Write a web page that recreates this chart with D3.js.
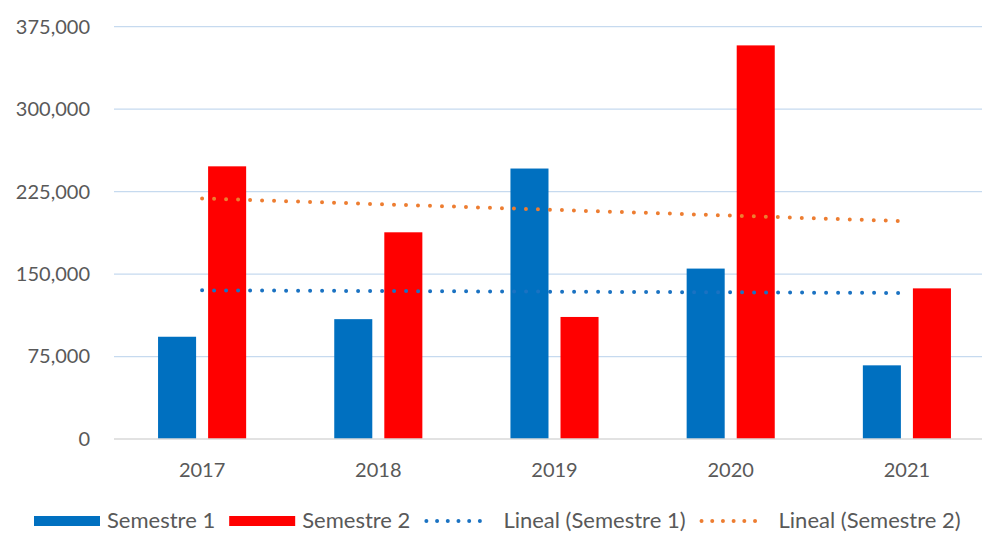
<!DOCTYPE html>
<html>
<head>
<meta charset="utf-8">
<script src="https://cdn.jsdelivr.net/npm/d3@7"></script>
<style>
  html, body { margin: 0; padding: 0; background: #fff; }
  svg { display: block; font-family: Lato, "Open Sans", sans-serif; }
</style>
</head>
<body>
<svg id="chart" width="982" height="533"></svg>
<script>
// Yearly totals per semester
const years = ["2017", "2018", "2019", "2020", "2021"];
const semestre1 = [93000, 109000, 246000, 155000, 67000];
const semestre2 = [248000, 188000, 111000, 358000, 137000];
const yTicks = [0, 75000, 150000, 225000, 300000, 375000];

const seriesNames = ["Semestre 1", "Semestre 2"];
const trendNames = ["Lineal (Semestre 1)", "Lineal (Semestre 2)"];
const barColors = ["#0070C0", "#FF0000"];
const trendColors = ["#1A72C2", "#ED7D31"];

const svg = d3.select("#chart");
const width = 982, height = 533;
const plot = { left: 114, right: 995, top: 26.7, bottom: 439 };

const x0 = d3.scaleBand().domain(years).range([plot.left, plot.right]).padding(0);
const groupW = x0.bandwidth() / 2;
const x1 = d3.scaleBand().domain([0, 1])
  .range([(x0.bandwidth() - groupW) / 2, (x0.bandwidth() + groupW) / 2])
  .paddingInner(0.24).paddingOuter(0);
const y = d3.scaleLinear().domain([0, 375000]).range([plot.bottom, plot.top]);

// Horizontal gridlines
svg.append("g")
  .selectAll("line")
  .data(yTicks.filter(t => t > 0))
  .join("line")
  .attr("x1", plot.left).attr("x2", width)
  .attr("y1", d => y(d)).attr("y2", d => y(d))
  .attr("stroke", "#C6DAEF").attr("stroke-width", 1.2);

// Y axis labels
const yAxis = d3.axisLeft(y).tickValues(yTicks).tickSize(0).tickPadding(0)
  .tickFormat(d3.format(","));
svg.append("g")
  .attr("transform", `translate(90,0)`)
  .call(yAxis)
  .call(g => g.select(".domain").remove())
  .call(g => g.selectAll("text")
    .attr("font-size", 20).attr("fill", "#595959")
    .attr("font-family", "Lato, 'Open Sans', sans-serif"));

// Bars
const series = [semestre1, semestre2];
const groups = svg.append("g")
  .selectAll("g")
  .data(years)
  .join("g")
  .attr("transform", d => `translate(${x0(d)},0)`);
groups.selectAll("rect")
  .data((d, i) => series.map((s, k) => ({ k, v: s[i] })))
  .join("rect")
  .attr("x", d => x1(d.k))
  .attr("width", x1.bandwidth())
  .attr("y", d => y(d.v))
  .attr("height", d => y(0) - y(d.v))
  .attr("fill", d => barColors[d.k]);

// Category axis line
svg.append("line")
  .attr("x1", plot.left).attr("x2", width)
  .attr("y1", y(0)).attr("y2", y(0))
  .attr("stroke", "#D9D9D9").attr("stroke-width", 1.5);

// X axis labels
const xAxis = d3.axisBottom(x0).tickSize(0).tickPadding(0);
svg.append("g")
  .attr("transform", `translate(0,${y(0) + 24})`)
  .call(xAxis)
  .call(g => g.select(".domain").remove())
  .call(g => g.selectAll("text")
    .attr("font-size", 20).attr("fill", "#595959")
    .attr("font-family", "Lato, 'Open Sans', sans-serif"));

// Linear least-squares trendline over category index 1..n
function linearFit(values) {
  const xs = values.map((_, i) => i + 1);
  const mx = d3.mean(xs), my = d3.mean(values);
  const sxy = d3.sum(xs, (xv, i) => (xv - mx) * (values[i] - my));
  const sxx = d3.sum(xs, xv => (xv - mx) ** 2);
  const b = sxy / sxx, a = my - b * mx;
  return xs.map(xv => a + b * xv);
}

const line = d3.line()
  .x((d, i) => x0(years[i]) + x0.bandwidth() / 2)
  .y(d => y(d));

series.forEach((s, k) => {
  svg.append("path")
    .datum(linearFit(s))
    .attr("d", line)
    .attr("fill", "none")
    .attr("stroke", trendColors[k])
    .attr("stroke-width", 4)
    .attr("stroke-linecap", "round")
    .attr("stroke-dasharray", "0 12");
});

// Legend
const legend = svg.append("g").attr("transform", "translate(0,520)");
const items = [
  { name: seriesNames[0], type: "bar", color: barColors[0] },
  { name: seriesNames[1], type: "bar", color: barColors[1] },
  { name: trendNames[0], type: "dot", color: trendColors[0] },
  { name: trendNames[1], type: "dot", color: trendColors[1] }
];
let lx = 34;
items.forEach(it => {
  let tx;
  if (it.type === "bar") {
    legend.append("rect").attr("x", lx).attr("y", -4).attr("width", 66).attr("height", 10)
      .attr("fill", it.color);
    tx = lx + 73;
  } else {
    legend.append("line").attr("x1", lx + 2).attr("x2", lx + 66).attr("y1", 1).attr("y2", 1)
      .attr("stroke", it.color).attr("stroke-width", 4).attr("stroke-linecap", "round")
      .attr("stroke-dasharray", "0 10.7");
    tx = lx + 79;
  }
  const t = legend.append("text").attr("x", tx).attr("y", 0).attr("dy", "0.35em")
    .attr("font-size", 22).attr("fill", "#595959").text(it.name);
  lx = tx + t.node().getComputedTextLength() + 14;
});
</script>
</body>
</html>
